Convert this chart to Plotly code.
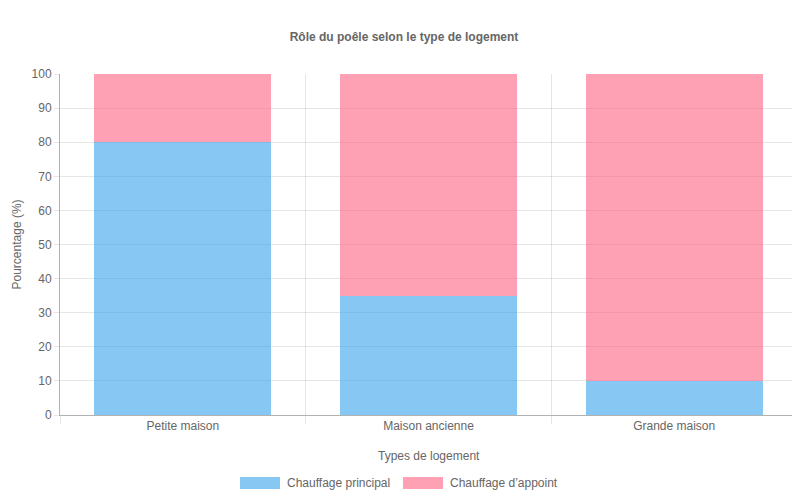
import plotly.graph_objects as go

categories = ["Petite maison", "Maison ancienne", "Grande maison"]
principal = [80, 35, 10]
appoint = [20, 65, 90]
series_names = ["Chauffage principal", "Chauffage d\u2019appoint"]
colors = ["rgba(54,162,235,0.6)", "rgba(255,99,132,0.6)"]
x_title = "Types de logement"
y_title = "Pourcentage (%)"

FONT = "Liberation Sans, Arial, sans-serif"
GRAY = "#666666"

OFF = 8  # default page body margin
W, H = 800 - OFF, 500 - OFF
L, R, T, B = 60 - OFF, 3, 74 - OFF, 85
PW, PH = W - L - R, H - T - B


def px(xw):
    return (xw - OFF - L) / PW


def py(yw):
    return (H - B - (yw - OFF)) / PH


fig = go.Figure()
for name, vals, col in zip(series_names, [principal, appoint], colors):
    fig.add_trace(go.Bar(x=categories, y=vals, name=name, marker=dict(color=col, line=dict(width=0)),
                         showlegend=False))

fig.update_layout(
    width=W, height=H,
    barmode="stack", bargap=0.28,
    margin=dict(l=L, r=R, t=T, b=B, autoexpand=False),
    paper_bgcolor="white", plot_bgcolor="white",
    font=dict(family=FONT, size=12, color=GRAY),
    title=dict(text="<b>R\u00f4le du po\u00eale selon le type de logement</b>", x=0.5, xanchor="center",
               y=1 - (37 - OFF) / H, yanchor="middle", font=dict(size=12, color=GRAY, family=FONT)),
    xaxis=dict(type="category", tickson="boundaries", showgrid=True, gridcolor="rgba(0,0,0,0.1)",
               ticks="outside", ticklen=8, tickcolor="rgba(0,0,0,0.1)", range=[-0.5, 2.5],
               showline=True, linecolor="rgba(0,0,0,0.3)", linewidth=1, automargin=False,
               tickfont=dict(size=12, color=GRAY)),
    yaxis=dict(range=[0, 100], dtick=10, showgrid=True, gridcolor="rgba(0,0,0,0.1)",
               ticks="outside", ticklen=5, tickcolor="rgba(0,0,0,0.1)", automargin=False,
               showline=True, linecolor="rgba(0,0,0,0.3)", linewidth=1, zeroline=False,
               tickfont=dict(size=12, color=GRAY)),
)

# axis titles
fig.add_annotation(xref="paper", yref="paper", x=0.5, y=py(456), text=x_title, showarrow=False,
                   xanchor="center", yanchor="middle", font=dict(size=12, color=GRAY, family=FONT))
fig.add_annotation(xref="paper", yref="paper", x=px(OFF), y=0.5, text=y_title, showarrow=False,
                   textangle=-90, xanchor="left", yanchor="middle", borderpad=0,
                   font=dict(size=12, color=GRAY, family=FONT))

# custom legend (Chart.js style boxes)
box_w = 40
starts = [240, 403]
for name, col, x0 in zip(series_names, colors, starts):
    fig.add_shape(type="rect", xref="paper", yref="paper",
                  x0=px(x0), x1=px(x0 + box_w), y0=py(489), y1=py(477),
                  fillcolor=col, line=dict(width=0))
    fig.add_annotation(xref="paper", yref="paper", x=px(x0 + box_w + 5), y=py(483),
                       text=name, showarrow=False, xanchor="left", yanchor="middle",
                       font=dict(size=12, color=GRAY, family=FONT))

fig.write_html("out.html")
